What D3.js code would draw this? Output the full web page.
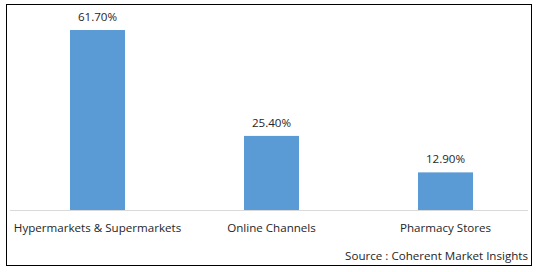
<!DOCTYPE html>
<html>
<head>
<meta charset="utf-8">
<script src="https://cdn.jsdelivr.net/npm/d3@7"></script>
<style>
  body { margin: 0; background: #fff; }
  text { font-family: "Open Sans", "DejaVu Sans", sans-serif; font-size: 11.6px; fill: #262626; }
</style>
</head>
<body>
<svg id="chart"></svg>
<script>
var categories = ["Hypermarkets & Supermarkets", "Online Channels", "Pharmacy Stores"];
var values = [61.7, 25.4, 12.9];
var valueLabels = ["61.70%", "25.40%", "12.90%"];
var sourceText = "Source : Coherent Market Insights";

var width = 538;
var height = 272;
var baseline = 210;
var pxPerUnit = 2.917;

var svg = d3.select("#chart")
            .attr("width", width)
            .attr("height", height);

// frame
svg.append("rect")
   .attr("x", 6.5)
   .attr("y", 4.5)
   .attr("width", 525)
   .attr("height", 261)
   .attr("fill", "none")
   .attr("stroke", "#000")
   .attr("stroke-width", 1);

var x = d3.scaleBand()
          .domain(categories)
          .range([10.5, 532.5])
          .paddingInner(0.684)
          .paddingOuter(0.342);

var y = d3.scaleLinear()
          .domain([0, 100])
          .range([baseline, baseline - 100 * pxPerUnit]);

// bars
svg.selectAll("rect.bar")
   .data(values)
   .enter()
   .append("rect")
   .attr("class", "bar")
   .attr("x", function(d, i) { return x(categories[i]); })
   .attr("y", function(d) { return y(d); })
   .attr("width", x.bandwidth())
   .attr("height", function(d) { return baseline - y(d); })
   .attr("fill", "#5b9bd5");

// axis line
svg.append("line")
   .attr("x1", 10)
   .attr("x2", 528)
   .attr("y1", baseline + 0.5)
   .attr("y2", baseline + 0.5)
   .attr("stroke", "#d9d9d9")
   .attr("stroke-width", 1);

// value labels
svg.selectAll("text.value")
   .data(values)
   .enter()
   .append("text")
   .attr("class", "value")
   .attr("text-anchor", "middle")
   .attr("x", function(d, i) { return x(categories[i]) + x.bandwidth() / 2; })
   .attr("y", function(d) { return y(d) - 9; })
   .text(function(d, i) { return valueLabels[i]; });

// categories
svg.selectAll("text.category")
   .data(categories)
   .enter()
   .append("text")
   .attr("class", "category")
   .attr("text-anchor", "middle")
   .attr("x", function(d) { return x(d) + x.bandwidth() / 2; })
   .attr("y", baseline + 22)
   .text(String);

svg.append("text")
   .attr("text-anchor", "end")
   .attr("x", 528)
   .attr("y", 260)
   .text(sourceText);
</script>
</body>
</html>
